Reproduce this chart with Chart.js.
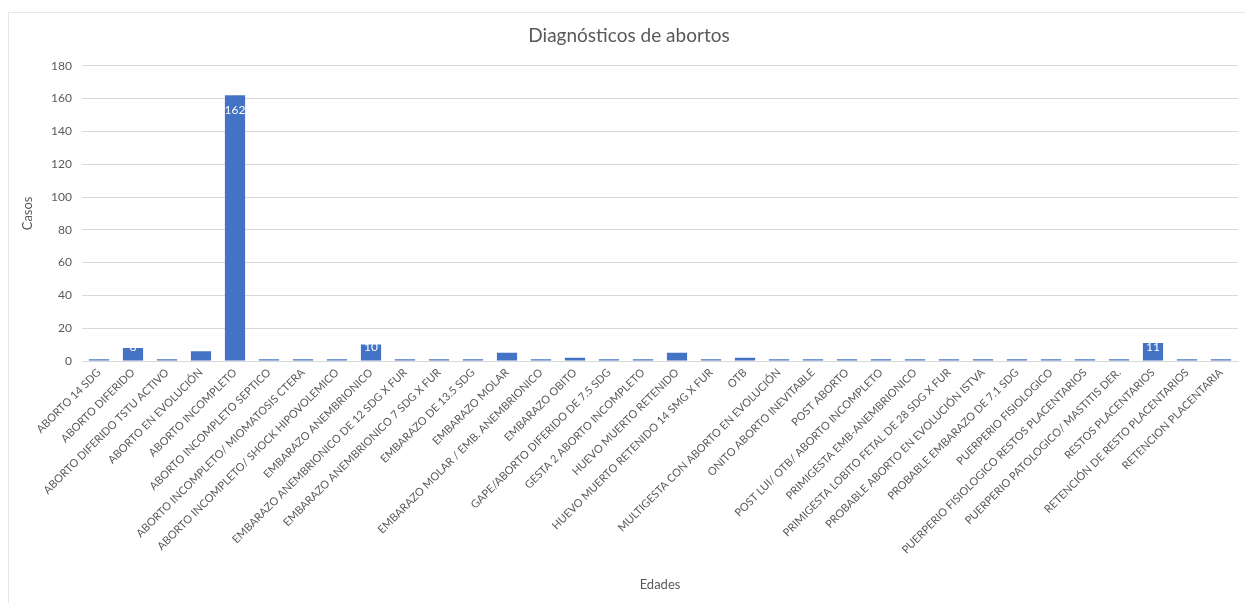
<!DOCTYPE html>
<html>
<head>
<meta charset="utf-8">
<script src="https://cdn.jsdelivr.net/npm/chart.js@4/dist/chart.umd.min.js"></script>
<style>
  html, body { margin: 0; padding: 0; background: #fff; }
  #wrap { position: absolute; left: 0; top: 0; width: 1245px; height: 603px; }
</style>
</head>
<body>
<div id="wrap"><canvas id="chart"></canvas></div>
<script>
const diagnosticos = [
    'ABORTO 14 SDG', 'ABORTO DIFERIDO', 'ABORTO DIFERIDO TSTU ACTIVO', 'ABORTO EN EVOLUCIÓN',
    'ABORTO INCOMPLETO', 'ABORTO INCOMPLETO SEPTICO', 'ABORTO INCOMPLETO/ MIOMATOSIS CTERA',
    'ABORTO INCOMPLETO/ SHOCK HIPOVOLEMICO', 'EMBARAZO ANEMBRIONICO', 'EMBARAZO ANEMBRIONICO DE 12 SDG X FUR',
    'EMBARAZO ANEMBRIONICO 7 SDG X FUR', 'EMBARAZO DE 13.5 SDG', 'EMBARAZO MOLAR',
    'EMBARAZO MOLAR / EMB. ANEMBRIONICO', 'EMBARAZO OBITO', 'GAPE/ABORTO DIFERIDO DE 7.5 SDG',
    'GESTA 2 ABORTO INCOMPLETO', 'HUEVO MUERTO RETENIDO', 'HUEVO MUERTO RETENIDO 14 SMG X FUR', 'OTB',
    'MULTIGESTA CON ABORTO EN EVOLUCIÓN', 'ONITO ABORTO INEVITABLE', 'POST ABORTO',
    'POST LUI/ OTB/ ABORTO INCOMPLETO', 'PRIMIGESTA EMB-ANEMBRIONICO', 'PRIMIGESTA LOBITO FETAL DE 28 SDG X FUR',
    'PROBABLE ABORTO EN EVOLUCIÓN ISTVA', 'PROBABLE EMBARAZO DE 7.1 SDG', 'PUERPERIO FISIOLOGICO',
    'PUERPERIO FISIOLOGICO RESTOS PLACENTARIOS', 'PUERPERIO PATOLOGICO/ MASTITIS DER.', 'RESTOS PLACENTARIOS',
    'RETENCIÓN DE RESTO PLACENTARIOS', 'RETENCION PLACENTARIA'
];
const casos = [1, 8, 1, 6, 162, 1, 1, 1, 10, 1, 1, 1, 5, 1, 2, 1, 1, 5, 1, 2, 1, 1, 1, 1, 1, 1, 1, 1, 1, 1, 1, 11, 1, 1];

const FONT = 'Lato, "Open Sans", sans-serif';
const GRAY = '#595959';

// white value labels at the inside end of each bar (Excel style);
// on short bars the label sits against the axis and spills over the top
const valueLabels = {
    id: 'valueLabels',
    afterDatasetsDraw(chart) {
        const ctx = chart.ctx;
        const meta = chart.getDatasetMeta(0);
        ctx.save();
        ctx.fillStyle = '#ffffff';
        ctx.font = '12px ' + FONT;
        ctx.textAlign = 'center';
        ctx.textBaseline = 'middle';
        meta.data.forEach((bar, i) => {
            const h = bar.base - bar.y;
            ctx.fillText(String(casos[i]), bar.x, bar.y + Math.min(15, h - 13));
        });
        ctx.restore();
    }
};

// light frame round the chart
const frame = {
    id: 'frame',
    beforeDraw(chart) {
        const ctx = chart.ctx;
        ctx.save();
        ctx.strokeStyle = '#e6e6e6';
        ctx.lineWidth = 1;
        ctx.strokeRect(8.5, 12.5, 1245, 600);
        ctx.restore();
    }
};

new Chart(document.getElementById('chart'), {
    type: 'bar',
    data: {
        labels: diagnosticos,
        datasets: [{
            label: 'Casos',
            data: casos,
            backgroundColor: '#4472C4',
            barPercentage: 0.9,
            categoryPercentage: 0.66
        }]
    },
    options: {
        responsive: true,
        maintainAspectRatio: false,
        animation: false,
        layout: { padding: { top: 11, bottom: 10, right: 7, left: 20 } },
        plugins: {
            legend: { display: false },
            tooltip: { enabled: false },
            title: {
                display: true,
                text: 'Diagnósticos de abortos',
                color: GRAY,
                font: { family: FONT, size: 19, weight: 'normal' },
                padding: { top: 13, bottom: 19 }
            }
        },
        scales: {
            x: {
                grid: { display: false, drawTicks: false },
                border: { color: '#d9d9d9' },
                ticks: {
                    color: GRAY,
                    font: { family: FONT, size: 11 },
                    minRotation: 45,
                    maxRotation: 45,
                    autoSkip: false,
                    padding: 5
                },
                title: {
                    display: true,
                    text: 'Edades',
                    color: GRAY,
                    font: { family: FONT, size: 13 },
                    padding: { top: 4, bottom: 0 }
                },
                afterFit(scale) { scale.height = 232; }
            },
            y: {
                min: 0,
                max: 180,
                grid: { color: '#d9d9d9', drawTicks: false },
                border: { display: false },
                ticks: {
                    stepSize: 20,
                    color: GRAY,
                    font: { family: FONT, size: 12 },
                    padding: 10
                },
                title: {
                    display: true,
                    text: 'Casos',
                    color: GRAY,
                    font: { family: FONT, size: 13 },
                    padding: { top: 0, bottom: 14 }
                },
                afterFit(scale) { scale.width = 62; }
            }
        }
    },
    plugins: [frame, valueLabels]
});
</script>
</body>
</html>
